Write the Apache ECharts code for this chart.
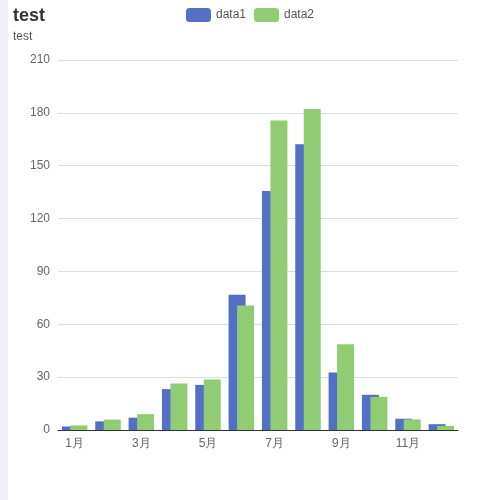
<!DOCTYPE html>
<html><head><meta charset="utf-8">
<script src="https://cdn.jsdelivr.net/npm/echarts@6/dist/echarts.min.js"></script>
<style>html,body{margin:0;padding:0;background:#fff}#strip{position:absolute;left:0;top:0;width:8px;height:500px;background:#f1f0f7}#c{position:absolute;left:0;top:0;width:500px;height:500px}</style>
</head><body><div id="strip"></div><div id="c"></div>
<script>
const categories = ['1月','2月','3月','4月','5月','6月','7月','8月','9月','10月','11月','12月'];
const data1 = [2.0, 4.9, 7.0, 23.2, 25.6, 76.7, 135.6, 162.2, 32.6, 20.0, 6.4, 3.3];
const data2 = [2.6, 5.9, 9.0, 26.4, 28.7, 70.7, 175.6, 182.2, 48.7, 18.8, 6.0, 2.3];
const chart = echarts.init(document.getElementById('c'));
chart.setOption({
  title: {text: 'test', subtext: 'test', left: 8, top: 2, itemGap: 6,
    textStyle: {fontSize: 18, fontWeight: 'bold', color: '#333'},
    subtextStyle: {fontSize: 12, color: '#555'}},
  legend: {data: ['data1','data2'], top: 3, left: 'center', itemWidth: 25, itemHeight: 14},
  grid: {left: 58, right: 42, top: 60, bottom: 70},
  xAxis: {type: 'category', data: categories, axisTick: {alignWithLabel: false},
    axisLabel: {interval: 1, color: '#666'}, axisLine: {lineStyle: {color: '#333'}}},
  yAxis: {type: 'value', min: 0, max: 210, interval: 30, axisLabel: {color: '#666'}},
  series: [
    {name: 'data1', type: 'bar', data: data1, barWidth: 17, barGap: '-50%', itemStyle: {color: '#5470c6'}},
    {name: 'data2', type: 'bar', data: data2, barWidth: 17, itemStyle: {color: '#91cc75'}}
  ]
});
</script></body></html>
